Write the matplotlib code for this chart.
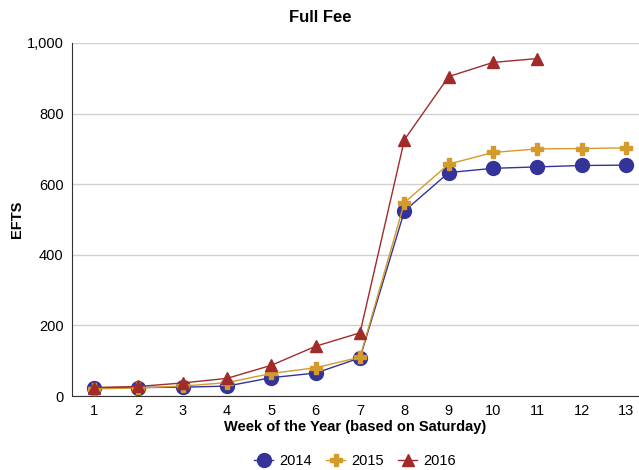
import matplotlib
matplotlib.use('Agg')
import matplotlib.pyplot as plt
from matplotlib.ticker import FuncFormatter

plt.rcParams['font.family'] = ['Liberation Sans', 'DejaVu Sans']

weeks = [1, 2, 3, 4, 5, 6, 7, 8, 9, 10, 11, 12, 13]
efts_2014 = [23, 24, 25, 28, 52, 65, 108, 524, 633, 645, 649, 653, 654]
efts_2015 = [20, 23, 28, 38, 64, 80, 110, 548, 657, 690, 700, 701, 703]
weeks_2016 = [1, 2, 3, 4, 5, 6, 7, 8, 9, 10, 11]
efts_2016 = [24, 27, 37, 50, 87, 141, 179, 726, 905, 945, 956]

fig = plt.figure(figsize=(6.39, 4.70), dpi=100)
ax = fig.add_axes([72 / 639, 1 - 396 / 470, 1 - 72 / 639, (396 - 43) / 470])

ax.plot(weeks, efts_2014, color='#333399', marker='o', markersize=10, linewidth=1, label='2014', zorder=3)
ax.plot(weeks, efts_2015, color='#D49A2A', marker='P', markersize=9, linewidth=1, label='2015', zorder=4)
ax.plot(weeks_2016, efts_2016, color='#A12B2B', marker='^', markersize=8, linewidth=1, label='2016', zorder=5)

ax.set_xlim(0.504, 13.29)
ax.set_ylim(0, 1000)
ax.set_xticks(weeks)
ax.set_yticks([0, 200, 400, 600, 800, 1000])
ax.yaxis.set_major_formatter(FuncFormatter(lambda v, p: f'{int(v):,}'))
ax.tick_params(length=0, labelsize=10.5, pad=6)
ax.grid(axis='y', color='#d0d0d0', linewidth=1)
ax.set_axisbelow(True)
for s in ['top', 'right']:
    ax.spines[s].set_visible(False)
ax.spines['left'].set_color('#333333')
ax.spines['bottom'].set_color('#333333')

ax.set_xlabel('Week of the Year (based on Saturday)', fontsize=10.5, fontweight='bold', labelpad=1)
fig.text(17 / 639, 1 - 219 / 470, 'EFTS', ha='center', va='center', rotation=90,
         fontsize=10.5, fontweight='bold')
fig.text(320 / 639, 1 - 17 / 470, 'Full Fee', ha='center', va='center', fontsize=12, fontweight='bold')

fig.legend(loc='center', bbox_to_anchor=(355 / 639, 1 - 461 / 470), ncol=3, frameon=False,
           fontsize=10.5, handlelength=1.3, columnspacing=1.0, handletextpad=0.4)

fig.savefig('out.png', dpi=100)
